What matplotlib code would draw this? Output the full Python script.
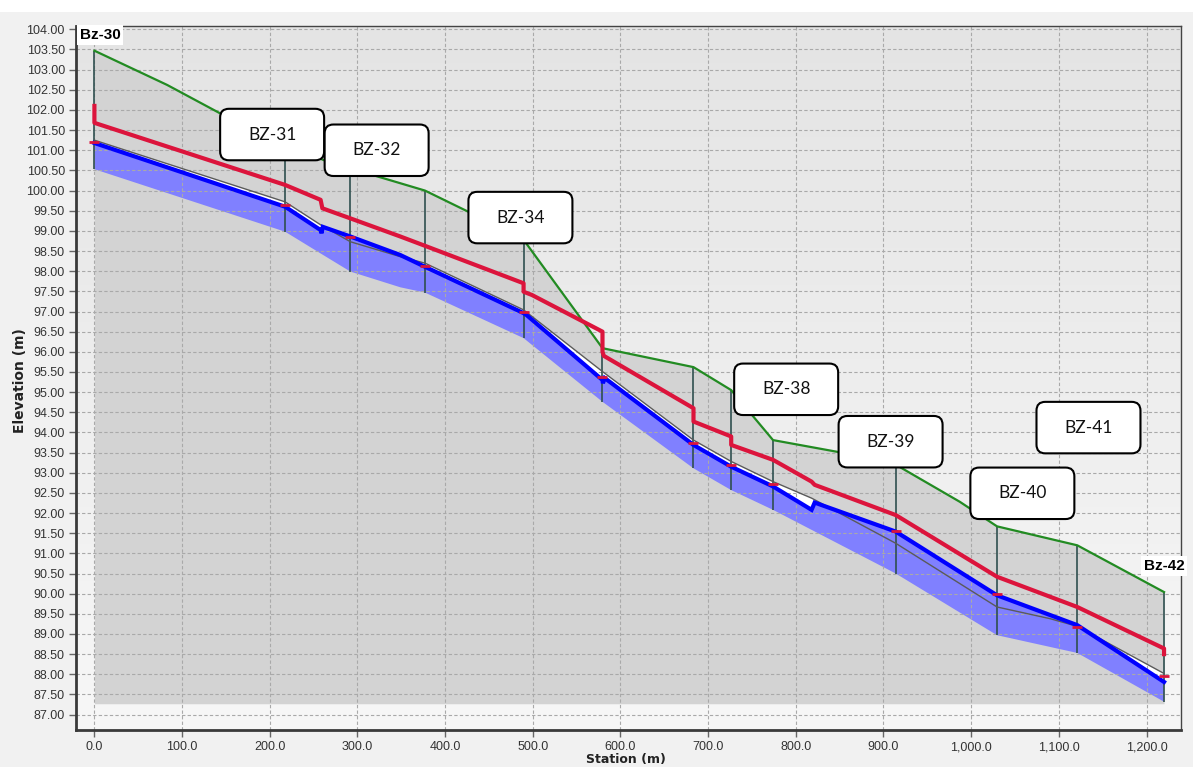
import numpy as np
import matplotlib
matplotlib.use("Agg")
import matplotlib.pyplot as plt
from matplotlib.colors import LinearSegmentedColormap
from matplotlib.patches import FancyBboxPatch, Rectangle

# Ground surface (green)
ground_st = [0, 83, 143, 217.5, 261, 292, 377, 425, 489.5, 579.5, 683.3, 726.3, 774, 847, 914, 987, 1029.5, 1121, 1220]
ground_el = [103.47, 102.62, 101.92, 101.20, 100.76, 100.55, 100.00, 99.49, 98.78, 96.09, 95.62, 95.05, 93.81, 93.52, 93.20, 92.28, 91.67, 91.20, 90.04]

# Red line (with vertical steps)
red_st = [0, 0, 217.5, 258, 260, 292, 349, 377, 489.5, 489.5, 499, 579.5, 579.5, 581, 683.3, 683.3, 726.3, 726.3, 774, 818, 821.5, 914, 1029.5, 1121, 1220, 1220]
red_el = [102.10, 101.68, 100.14, 99.77, 99.56, 99.31, 98.86, 98.63, 97.70, 97.49, 97.41, 96.50, 96.00, 95.90, 94.60, 94.27, 93.90, 93.69, 93.32, 92.78, 92.70, 91.95, 90.42, 89.67, 88.64, 88.50]

# Blue line
blue_st = [0, 217.5, 258, 259, 260.5, 292, 349, 377, 489.5, 493, 579.5, 580, 582, 683.3, 726.3, 774, 818, 821.5, 914, 1029.5, 1121, 1220]
blue_el = [101.18, 99.60, 99.02, 98.94, 99.10, 98.86, 98.40, 98.11, 96.96, 96.91, 95.30, 95.22, 95.35, 93.69, 93.15, 92.66, 92.08, 92.26, 91.54, 89.96, 89.22, 87.81]

# Thin grey line
grey_st = [0, 217.5, 258, 292, 349, 377, 489.5, 579.5, 683.3, 726.3, 774, 818, 914, 1029.5, 1090, 1121, 1220]
grey_el = [101.25, 99.72, 99.15, 98.73, 98.36, 98.20, 97.04, 95.51, 93.81, 93.28, 92.78, 92.37, 91.25, 89.67, 89.38, 89.19, 88.02]

# Bottom of blue band
low_st = [0, 217.5, 258, 292, 349, 377, 489.5, 579.5, 683.3, 726.3, 774, 914, 1029.5, 1121, 1220]
low_el = [100.53, 98.98, 98.44, 97.99, 97.60, 97.47, 96.34, 94.76, 93.11, 92.57, 92.08, 90.50, 88.97, 88.53, 87.32]

profile_base = 87.27

# Boreholes
bh_st = [0, 217.5, 292, 377, 489.5, 579.5, 683.3, 726.3, 774, 914, 1029.5, 1121, 1220]
bh_top = [103.47, 101.20, 100.55, 100.00, 98.78, 96.09, 95.62, 95.05, 93.81, 93.20, 91.67, 91.20, 90.04]
bh_bot = [100.53, 98.98, 97.99, 97.47, 96.34, 94.76, 93.11, 92.57, 92.08, 90.50, 88.97, 88.53, 87.32]
bh_mark = [101.20, 99.65, 98.86, 98.13, 97.00, 95.38, 93.75, 93.20, 92.72, 91.55, 89.98, 89.17, 87.95]

# callout labels (box centre station, elevation)
callouts = ["BZ-31", "BZ-32", "BZ-34", "BZ-38", "BZ-39", "BZ-40", "BZ-41"]
callout_x = [202.7, 321.9, 485.9, 789.0, 908.1, 1058.4, 1133.8]
callout_y = [101.39, 101.00, 99.33, 95.07, 93.77, 92.49, 94.12]

fig = plt.figure(figsize=(11.93, 7.67), dpi=100, facecolor="#f1f1f1")
fig.patches.append(Rectangle((0, 0.985), 1, 0.015, transform=fig.transFigure,
                             facecolor="white", edgecolor="none", zorder=-1))
ax = fig.add_axes([0.0637, 0.0478, 0.9260, 0.9187])

grad = LinearSegmentedColormap.from_list("bg", ["#e4e4e4", "#f7f7f7"])
ax.imshow(np.linspace(0, 1, 256)[:, None], cmap=grad, extent=[0, 1, 0, 1],
          transform=ax.transAxes, aspect="auto", zorder=0)

# grey profile body
ax.fill_between(ground_st, profile_base, ground_el, color="#d3d3d3", lw=0, zorder=1)
# white gap between grey line and blue line
ax.fill(np.concatenate([grey_st, blue_st[::-1]]), np.concatenate([grey_el, blue_el[::-1]]),
        color="white", lw=0, zorder=1.1)
# blue band
ax.fill(np.concatenate([low_st, blue_st[::-1]]), np.concatenate([low_el, blue_el[::-1]]),
        color="#8080ff", lw=0, zorder=1.2)

ax.vlines(bh_st, bh_bot, bh_top, color="#2f4f4f", lw=1.2, zorder=2)
ax.plot(grey_st, grey_el, color="#5a5a5a", lw=1.0, zorder=3)
ax.plot(ground_st, ground_el, color="#228b22", lw=1.6, zorder=3)
ax.plot(blue_st, blue_el, color="#0000ff", lw=3, zorder=4, solid_joinstyle="miter")
ax.plot(red_st, red_el, color="#dc143c", lw=3, zorder=5)
ax.plot(bh_st, bh_mark, ls="none", marker="_", ms=7, mew=2, color="#dc143c", zorder=6)

# callout boxes
bw, bh = 118.6, 1.277
asp = (1 / 40.32) / (1 / 0.8767)
for name, cx, cy in zip(callouts, callout_x, callout_y):
    box = FancyBboxPatch((cx - bw / 2, cy - bh / 2), bw, bh,
                         boxstyle="round,pad=0,rounding_size=10", mutation_aspect=asp,
                         facecolor="white", edgecolor="black", lw=1.5, zorder=10)
    ax.add_patch(box)
    ax.text(cx, cy, name, ha="center", va="center", fontsize=12.5,
            family="Lato", color="#111111", zorder=11)

ax.text(-17, 103.86, "Bz-30", ha="left", va="center", fontsize=11, fontweight="bold",
        family="Liberation Sans", zorder=11,
        bbox=dict(facecolor="white", edgecolor="none", pad=2))
ax.text(1220, 90.69, "Bz-42", ha="center", va="center", fontsize=11, fontweight="bold",
        family="Liberation Sans", zorder=11, clip_on=False,
        bbox=dict(facecolor="white", edgecolor="none", pad=2))

ax.set_xlim(-21, 1239)
ax.set_ylim(86.61, 104.09)
ax.set_autoscale_on(False)

xt = np.arange(0, 1201, 100)
yt = np.arange(87, 104.01, 0.5)
ax.set_xticks(xt)
ax.set_xticklabels([f"{v:,.1f}" for v in xt])
ax.set_yticks(yt)
ax.set_yticklabels([f"{v:.2f}" for v in yt])
ax.tick_params(axis="both", length=5, width=1, color="#666666", labelsize=9,
               labelcolor="#333333", pad=3)
for lab in ax.get_xticklabels() + ax.get_yticklabels():
    lab.set_family("Liberation Sans")

ax.set_axisbelow("line")
ax.grid(True, linestyle=(0, (3, 2)), color="#a9a9a9", linewidth=0.8)

for side in ["left", "bottom"]:
    ax.spines[side].set_linewidth(2)
    ax.spines[side].set_color("#3a3a3a")
for side in ["top", "right"]:
    ax.spines[side].set_linewidth(1)
    ax.spines[side].set_color("#444444")

fig.text(20 / 1193, 1 - 381 / 767, "Elevation (m)", rotation=90, ha="center", va="center",
         fontsize=10, fontweight="bold", family="DejaVu Sans", color="#222222")
fig.text(626 / 1193, 1 - 760 / 767, "Station (m)", ha="center", va="center",
         fontsize=9, fontweight="bold", family="DejaVu Sans", color="#222222")

fig.savefig("out.png", dpi=100, facecolor=fig.get_facecolor())
